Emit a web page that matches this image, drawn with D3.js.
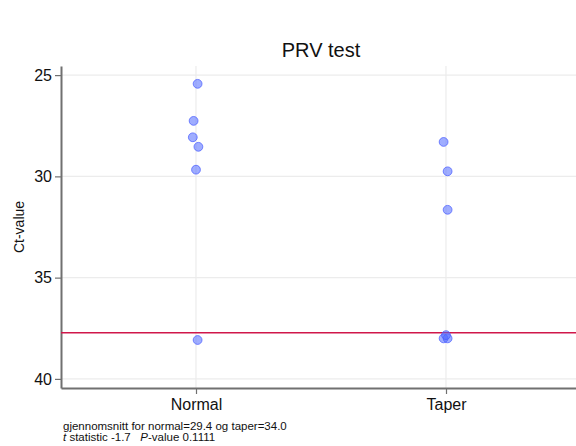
<!DOCTYPE html>
<html>
<head>
<meta charset="utf-8">
<script src="https://cdn.jsdelivr.net/npm/d3@7"></script>
<style>
  body { margin: 0; background: #fff; }
  text { font-family: "Liberation Sans", Arial, sans-serif; }
</style>
</head>
<body>
<div id="chart"></div>
<script>
// data
var groups = ["Normal", "Taper"];
var normalVals = [25.43, 27.26, 28.07, 28.54, 29.67, 38.08];
var normalJit = [0.02, -0.03, -0.04, 0.03, 0.0, 0.02];
var taperVals = [28.3, 29.75, 31.65, 38.0, 38.0, 37.84];
var taperJit = [-0.03, 0.02, 0.02, -0.03, 0.02, 0.0];
var yTicks = [25, 30, 35, 40];
var cutoff = 37.72;
var noteLine1 = "gjennomsnitt for normal=29.4 og taper=34.0";

var W = 576, H = 446;
var pLeft = 61, pRight = 581, pTop = 66, pBottom = 388;

var svg = d3.select("#chart").append("svg")
    .attr("width", W)
    .attr("height", H);

var x = d3.scalePoint().domain(groups).range([pLeft, pRight]).padding(0.54);
var y = d3.scaleLinear().domain([24.55, 40.45]).range([pTop, pBottom]);
var jit = 40; // px per jitter unit

// grid
svg.append("g").selectAll("line").data(yTicks).enter().append("line")
    .attr("x1", pLeft).attr("x2", pRight)
    .attr("y1", function(d){ return y(d); }).attr("y2", function(d){ return y(d); })
    .attr("stroke", "#ececec").attr("stroke-width", 1.2);
svg.append("g").selectAll("line").data(groups).enter().append("line")
    .attr("x1", function(d){ return x(d); }).attr("x2", function(d){ return x(d); })
    .attr("y1", pTop).attr("y2", pBottom)
    .attr("stroke", "#ececec").attr("stroke-width", 1.2);

// axes
var yAxis = svg.append("g")
    .attr("transform", "translate(" + pLeft + ",0)")
    .call(d3.axisLeft(y).tickValues(yTicks).tickSize(6).tickPadding(3).tickSizeOuter(0));
var xAxis = svg.append("g")
    .attr("transform", "translate(0," + pBottom + ")")
    .call(d3.axisBottom(x).tickSize(6).tickPadding(5).tickSizeOuter(0));
[yAxis, xAxis].forEach(function(a){
    a.select(".domain").attr("stroke", "#707070").attr("stroke-width", 2);
    a.selectAll(".tick line").attr("stroke", "#707070").attr("stroke-width", 1.2);
    a.selectAll(".tick text").attr("fill", "#111").style("font-size", "16px")
        .style("font-family", "Liberation Sans, Arial, sans-serif");
});

// cutoff line
svg.append("line")
    .attr("x1", pLeft).attr("x2", pRight)
    .attr("y1", y(cutoff)).attr("y2", y(cutoff))
    .attr("stroke", "#d0174a").attr("stroke-width", 1.6);

// points
function drawGroup(name, vals, jits){
    svg.append("g").selectAll("circle").data(vals).enter().append("circle")
        .attr("cx", function(d, i){ return x(name) + jits[i] * jit * 2; })
        .attr("cy", function(d){ return y(d); })
        .attr("r", 4.4)
        .attr("fill", "rgba(80,105,255,0.55)")
        .attr("stroke", "rgba(70,90,255,0.7)")
        .attr("stroke-width", 1);
}
drawGroup("Normal", normalVals, normalJit);
drawGroup("Taper", taperVals, taperJit);

// title + labels
svg.append("text")
    .attr("x", (pLeft + pRight) / 2).attr("y", 57)
    .attr("text-anchor", "middle")
    .style("font-size", "20px").attr("fill", "#111")
    .text("PRV test");
svg.append("text")
    .attr("transform", "translate(24," + ((pTop + pBottom) / 2) + ") rotate(-90)")
    .attr("text-anchor", "middle")
    .style("font-size", "14px").attr("fill", "#111")
    .text("Ct-value");

// note
svg.append("text")
    .attr("x", 63).attr("y", 430)
    .style("font-size", "11.5px").attr("fill", "#111")
    .text(noteLine1);
var n2 = svg.append("text")
    .attr("x", 63).attr("y", 441)
    .style("font-size", "11.5px").style("white-space", "pre").attr("fill", "#111");
n2.append("tspan").style("font-style", "italic").text("t");
n2.append("tspan").text(" statistic -1.7   ");
n2.append("tspan").style("font-style", "italic").text("P");
n2.append("tspan").text("-value 0.1111");
</script>
</body>
</html>
